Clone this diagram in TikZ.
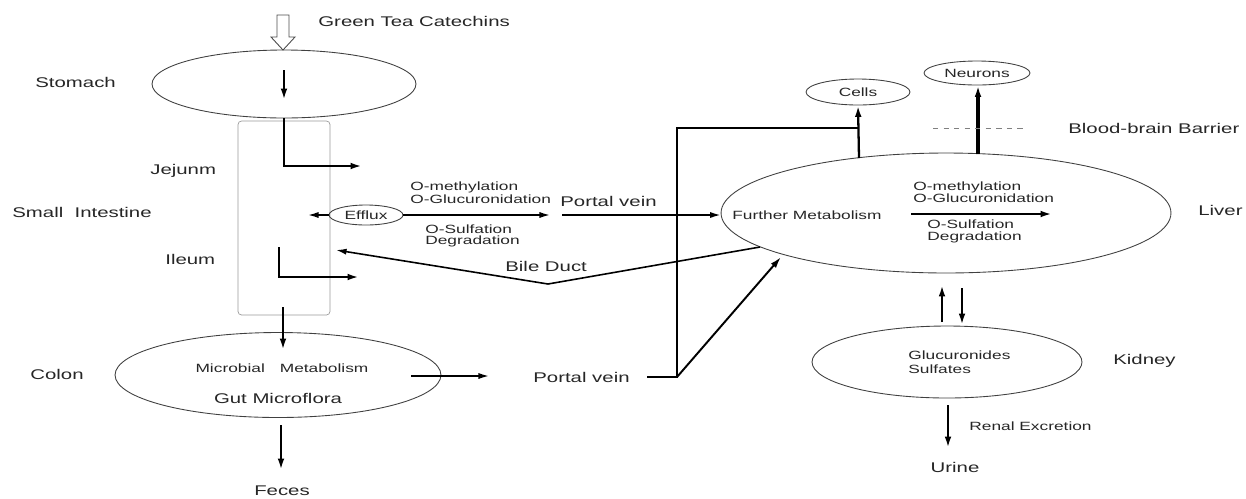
\documentclass[tikz,border=0pt]{standalone}
\usepackage{fontspec}
\setmainfont{Liberation Sans}[FakeStretch=1.45]
\usetikzlibrary{shapes.geometric,arrows.meta}
\tikzset{
	organ/.style={draw=black!75, ellipse, line width=0.5pt, inner sep=1pt},
	big/.style={font=\fontsize{8}{9.5}\selectfont, inner sep=0pt, text=black!85},
	sm/.style={font=\fontsize{6.8}{7.8}\selectfont, inner sep=0pt, text=black!85},
	flow/.style={-{Latex[length=6.5pt,width=3.8pt]}, line width=1.3pt},
	thin flow/.style={-{Latex[length=6pt,width=3.5pt]}, line width=0.9pt},
}
\begin{document}
\begin{tikzpicture}[x=0.02cm, y=-0.02cm]
	\useasboundingbox (0,0) rectangle (1246,498);
	\draw[black!70, line width=0.5pt] (277,15) -- (289,15) -- (289,37) -- (295,37) -- (283,50) -- (271,37) -- (277,37) -- cycle;
	\node[big, anchor=west] (tea) at (318,21) {Green Tea Catechins};
	\node[organ, minimum width=5.28cm, minimum height=1.36cm] (stomach) at (284,84) {};
	\node[big, anchor=west] (stomachL) at (35,82) {Stomach};
	\node[draw=black!40, line width=0.4pt, rounded corners=2pt, minimum width=1.84cm, minimum height=3.88cm] (intestine) at (284,218) {};
	\node[big, anchor=west] (jejunL) at (150,171) {Jejunm};
	\node[big, anchor=west] (siL) at (12,212) {Small\ \ Intestine};
	\node[big, anchor=west] (ileumL) at (165,259) {Ileum};
	\node[organ, sm, minimum width=1.48cm, minimum height=0.4cm] (efflux) at (366,215) {Efflux};
	\node[sm, anchor=west] (meth1) at (410,187) {O-methylation};
	\node[sm, anchor=west] (gluc1) at (410,199) {O-Glucuronidation};
	\node[big, anchor=west] (pv1) at (560,201) {Portal vein};
	\node[sm, anchor=west] (sulf1) at (425,229) {O-Sulfation};
	\node[sm, anchor=west] (deg1) at (425,241) {Degradation};
	\node[big, anchor=west] (bile) at (505,266) {Bile Duct};
	\node[organ, minimum width=6.52cm, minimum height=1.7cm] (colon) at (278,375) {};
	\node[big, anchor=west] (colonL) at (30,374) {Colon};
	\node[sm] (micro) at (282,368) {Microbial\hspace{0.3cm}Metabolism};
	\node[big] (gut) at (278,398) {Gut Microflora};
	\node[big] (feces) at (282,491) {Feces};
	\node[big, anchor=west] (pv2) at (533,377) {Portal vein};
	\node[organ, minimum width=9cm, minimum height=2.4cm] (liver) at (946,213) {};
	\node[sm, anchor=west] (further) at (732,215) {Further Metabolism};
	\node[sm, anchor=west] (meth2) at (913,187) {O-methylation};
	\node[sm, anchor=west] (gluc2) at (913,198) {O-Glucuronidation};
	\node[sm, anchor=west] (sulf2) at (927,224) {O-Sulfation};
	\node[sm, anchor=west] (deg2) at (927,237) {Degradation};
	\node[big, anchor=west] (liverL) at (1198,210) {Liver};
	\node[organ, sm, minimum width=2.08cm, minimum height=0.52cm] (cells) at (858,92) {Cells};
	\node[organ, sm, minimum width=2.12cm, minimum height=0.48cm] (neurons) at (977,73) {Neurons};
	\node[big, anchor=west] (bbb) at (1068,128) {Blood-brain Barrier};
	\node[organ, minimum width=5.4cm, minimum height=1.44cm] (kidney) at (947,362) {};
	\node[sm, anchor=west, align=left] (conj) at (908,362) {Glucuronides\\Sulfates};
	\node[big, anchor=west] (kidneyL) at (1113,361) {Kidney};
	\node[sm, anchor=west] (renal) at (969,426) {Renal Excretion};
	\node[big] (urine) at (955,467) {Urine};
	\coordinate (stIn) at (284,70);
	\coordinate (stOut) at (284,100);
	\coordinate (jejOut) at (362,166);
	\coordinate (ilTop) at (279,247);
	\coordinate (ilOut) at (359,277);
	\coordinate (effIn) at (308,215);
	\coordinate (pvMid) at (550,215);
	\coordinate (pvMid2) at (562,215);
	\coordinate (bileA) at (760,247);
	\coordinate (bileB) at (548,284);
	\coordinate (bileC) at (336,250);
	\coordinate (siOut) at (283,307);
	\coordinate (coIn) at (283,350);
	\coordinate (coOut) at (411,376);
	\coordinate (pvIn) at (489,376);
	\coordinate (pvOut) at (647,377);
	\coordinate (pvJoin) at (677,377);
	\coordinate (pvTop) at (677,128);
	\coordinate (cellsT) at (859,128);
	\coordinate (livIn) at (781,257);
	\coordinate (livC) at (859,158);
	\coordinate (livN) at (978,154);
	\coordinate (bbbA) at (933,128);
	\coordinate (bbbB) at (1027,128);
	\coordinate (metA) at (911,214);
	\coordinate (metB) at (1052,214);
	\coordinate (kUpA) at (942,322);
	\coordinate (kUpB) at (942,285);
	\coordinate (kDnA) at (962,288);
	\coordinate (kDnB) at (962,325);
	\coordinate (renA) at (948,405);
	\coordinate (renB) at (948,448);
	\coordinate (fecA) at (281,425);
	\coordinate (fecB) at (281,470);
	\draw[flow] (stIn) -- (stOut);
	\draw[flow] (stomach.south) |- (jejOut);
	\draw[flow] (ilTop) |- (ilOut);
	\draw[thin flow] (efflux.west) -- (effIn);
	\draw[thin flow] (efflux.east) -- (pvMid);
	\draw[thin flow] (pvMid2) -- (pvMid2 -| liver.west);
	\draw[thin flow] (bileA) -- (bileB) -- (bileC);
	\draw[flow] (siOut) -- (coIn);
	\draw[thin flow] (coOut) -- (pvIn);
	\draw[line width=1.2pt] (pvOut) -- (pvJoin) -- (pvTop) -- (cellsT);
	\draw[flow, line width=1.1pt] (pvJoin) -- (livIn);
	\draw[flow] (livC) -- (cells.south);
	\draw[flow, line width=1.8pt] (livN) -- (livN |- neurons.south);
	\draw[black!50, dashed, line width=0.5pt] (bbbA) -- (bbbB);
	\draw[flow, line width=1.5pt] (metA) -- (metB);
	\draw[flow] (kUpA) -- (kUpB);
	\draw[flow] (kDnA) -- (kDnB);
	\draw[flow] (renA) -- (renB);
	\draw[flow] (fecA) -- (fecB);
\end{tikzpicture}
\end{document}
